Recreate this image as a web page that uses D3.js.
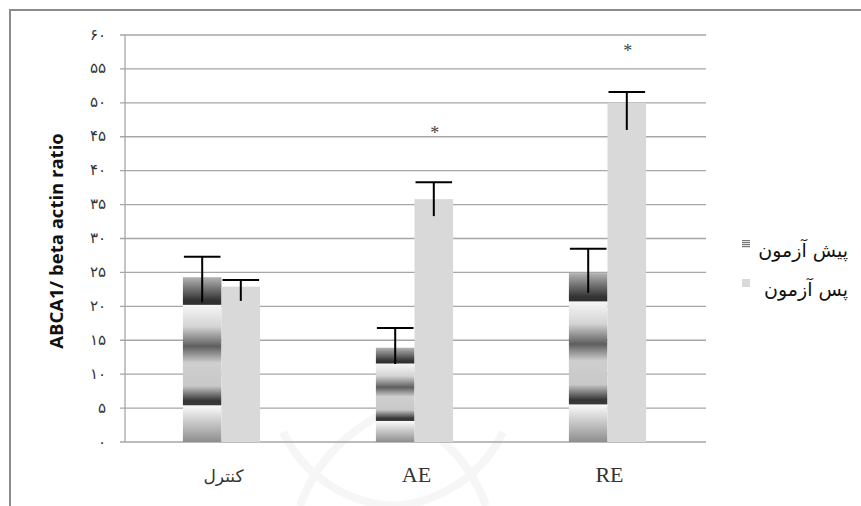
<!DOCTYPE html>
<meta charset="utf-8">
<style>
body { margin: 0; background: #fff; }
.grid line { stroke: #a6a6a6; stroke-width: 1.3px; }
.ytick text { font-family: "DejaVu Sans"; font-size: 15px; fill: #333; }
.xlab { font-family: "Liberation Serif", "DejaVu Sans"; font-size: 22px; fill: #333; }
.xlab.fa { font-family: "DejaVu Sans"; font-size: 17px; }
.legend text { font-family: "DejaVu Sans"; font-size: 19px; fill: #111; }
.err line { stroke: #000; stroke-width: 2px; }
</style>
<body>
<svg width=861 height=506></svg>
</body>
<script src="https://d3js.org/d3.v7.min.js"></script>
<script>
// data
const categories = ["کنترل", "AE", "RE"]
const seriesNames = ["پیش آزمون", "پس آزمون"]
const preValues = [24.3, 13.9, 24.9]
const postValues = [22.9, 35.8, 50.0]
const preErrUp = [3.0, 2.9, 3.6]
const preErrDown = [3.7, 2.4, 2.9]
const postErrUp = [1.0, 2.5, 1.6]
const postErrDown = [2.1, 2.5, 4.0]
const starValues = [null, 46.3, 58.4]
const yTicks = [0, 5, 10, 15, 20, 25, 30, 35, 40, 45, 50, 55, 60]

const toPersian = (n) => String(n).replace(/\d/g, (d) => "۰۱۲۳۴۵۶۷۸۹"[d])

const svg = d3.select("svg")
const plotLeft = 125, plotRight = 704, plotTop = 35, plotBottom = 442

// frame
svg.append("path")
  .attr("d", "M10,506 V10 H861")
  .attr("fill", "none")
  .attr("stroke", "#8c8c8c")
  .attr("stroke-width", 2)

// faint watermark behind the plot
const wm = svg.append("g").attr("fill", "none").attr("stroke", "#f6f6f6").attr("stroke-width", 8)
wm.append("path").attr("d", "M393,410 A160,160 0 0 0 300,506")
wm.append("path").attr("d", "M393,410 A160,160 0 0 1 486,506")
wm.append("path").attr("d", "M283,432 A130,130 0 0 0 400,506")
wm.append("path").attr("d", "M503,432 A130,130 0 0 1 386,506")

const defs = svg.append("defs")
const grad = defs.append("linearGradient")
  .attr("id", "preFill").attr("x1", 0).attr("y1", 0).attr("x2", 0).attr("y2", 1)
const stops = [
  [0, "#b4b4b4"], [0.14, "#333"], [0.165, "#303030"], [0.17, "#f6f6f6"],
  [0.30, "#d4d4d4"], [0.42, "#5e5e5e"], [0.52, "#cfcfcf"], [0.66, "#c8c8c8"],
  [0.75, "#363636"], [0.775, "#3a3a3a"], [0.78, "#fafafa"], [1, "#8e8e8e"]
]
grad.selectAll("stop").data(stops).enter().append("stop")
  .attr("offset", (d) => d[0]).attr("stop-color", (d) => d[1])

const legGrad = defs.append("pattern")
  .attr("id", "legPre").attr("width", 8).attr("height", 2).attr("patternUnits", "userSpaceOnUse")
legGrad.append("rect").attr("width", 8).attr("height", 2).attr("fill", "#e0e0e0")
legGrad.append("rect").attr("width", 8).attr("height", 1).attr("fill", "#7a7a7a")

const y = d3.scaleLinear().domain([0, 60]).range([plotBottom, plotTop])
const x0 = d3.scaleBand().domain(categories).range([plotLeft, plotRight])
const x1 = d3.scaleBand().domain(seriesNames)
  .range([x0.bandwidth() * 0.3, x0.bandwidth() * 0.7])

// gridlines + tick labels
const grid = svg.append("g").attr("class", "grid")
grid.selectAll("line").data(yTicks).enter().append("line")
  .attr("x1", plotLeft - 5).attr("x2", plotRight + 2)
  .attr("y1", (d) => y(d)).attr("y2", (d) => y(d))
grid.append("line")
  .attr("x1", plotLeft).attr("x2", plotLeft).attr("y1", plotTop).attr("y2", plotBottom)

svg.append("g").attr("class", "ytick")
  .selectAll("text").data(yTicks).enter().append("text")
  .attr("x", 106).attr("y", (d) => y(d)).attr("dy", "0.3em")
  .attr("text-anchor", "end")
  .text((d) => toPersian(d))

// y title
svg.append("text")
  .attr("transform", "translate(63,241) rotate(-90)")
  .attr("text-anchor", "middle")
  .attr("font-family", "Open Sans")
  .attr("font-weight", "bold")
  .attr("font-size", 18.5)
  .attr("fill", "#111")
  .text("ABCA1/ beta actin ratio")

const rows = categories.map((c, i) => ({
  cat: c,
  bars: [
    {s: seriesNames[0], v: preValues[i], up: preErrUp[i], down: preErrDown[i]},
    {s: seriesNames[1], v: postValues[i], up: postErrUp[i], down: postErrDown[i]}
  ],
  star: starValues[i]
}))

const group = svg.append("g").selectAll("g").data(rows).enter().append("g")
  .attr("transform", (d) => `translate(${x0(d.cat)},0)`)

group.selectAll("rect").data((d) => d.bars).enter().append("rect")
  .attr("x", (d) => x1(d.s))
  .attr("width", x1.bandwidth())
  .attr("y", (d) => y(d.v))
  .attr("height", (d) => y(0) - y(d.v))
  .attr("fill", (d, i) => i == 0 ? "url(#preFill)" : "#d9d9d9")

// error bars, cap only on top
const err = group.append("g").attr("class", "err")
  .selectAll("g").data((d) => d.bars).enter().append("g")
err.append("line")
  .attr("x1", (d) => x1(d.s) + x1.bandwidth() / 2)
  .attr("x2", (d) => x1(d.s) + x1.bandwidth() / 2)
  .attr("y1", (d) => y(d.v + d.up))
  .attr("y2", (d) => y(d.v - d.down))
err.append("line")
  .attr("x1", (d) => x1(d.s) + 1)
  .attr("x2", (d) => x1(d.s) + x1.bandwidth() - 1)
  .attr("y1", (d) => y(d.v + d.up))
  .attr("y2", (d) => y(d.v + d.up))

group.filter((d) => d.star != null).append("text")
  .attr("x", x1(seriesNames[1]) + x1.bandwidth() / 2 + 1)
  .attr("y", (d) => y(d.star))
  .attr("dy", "0.6em")
  .attr("text-anchor", "middle")
  .attr("font-family", "Liberation Serif")
  .attr("font-size", 18)
  .attr("fill", "#444")
  .text("*")

// category labels
svg.append("g").selectAll("text").data(categories).enter().append("text")
  .attr("class", (d, i) => i == 0 ? "xlab fa" : "xlab")
  .attr("x", (d) => x0(d) + x0.bandwidth() / 2 + 2)
  .attr("y", 482)
  .attr("text-anchor", "middle")
  .text((d) => d)

// legend
const legend = svg.append("g").attr("class", "legend")
  .selectAll("g").data(seriesNames).enter().append("g")
  .attr("transform", (d, i) => `translate(742,${240 + i * 39})`)
legend.append("rect")
  .attr("width", 8).attr("height", 8)
  .attr("fill", (d, i) => i == 0 ? "url(#legPre)" : "#d9d9d9")
legend.append("text")
  .attr("x", 106).attr("y", 17)
  .attr("direction", "rtl")
  .attr("text-anchor", "start")
  .text((d) => d)
</script>
